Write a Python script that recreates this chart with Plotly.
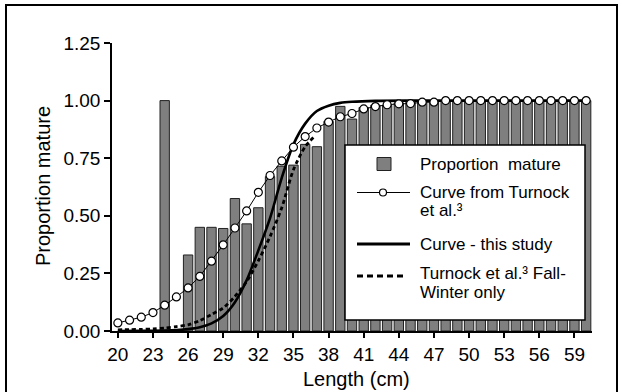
import plotly.graph_objects as go

# ---------------- data ----------------
lengths = list(range(20, 61))
prop_mature = [None, None, None, None, 1.00, None, 0.33, 0.45, 0.45, 0.445,
               0.575, 0.465, 0.535, 0.67, 0.715, 0.72, 0.81, 0.80, 0.91, 0.975,
               0.92, 0.97, 0.98, 0.98, 0.99, 1.0, 1.0, 1.0, 1.0, 1.0,
               1.0, 1.0, 1.0, 1.0, 1.0, 1.0, 1.0, 1.0, 1.0, 1.0, 1.0]

turnock_y = [0.035, 0.047, 0.060, 0.080, 0.112, 0.148, 0.187, 0.237, 0.303, 0.374,
             0.447, 0.521, 0.602, 0.675, 0.738, 0.798, 0.844, 0.881, 0.907, 0.930,
             0.944, 0.964, 0.974, 0.982, 0.986, 0.987, 0.993, 0.993, 1.0, 1.0,
             1.0, 1.0, 1.0, 1.0, 1.0, 1.0, 1.0, 1.0, 1.0, 1.0, 1.0]

study_x = [20, 22, 24, 25, 26, 27, 28, 29, 30, 31, 32, 33, 34, 35, 36, 37, 38, 39, 40, 42, 45, 50, 60]
study_y = [0.0, 0.0005, 0.002, 0.004, 0.008, 0.016, 0.033, 0.065, 0.125, 0.22, 0.35, 0.49,
           0.665, 0.81, 0.90, 0.955, 0.978, 0.99, 0.995, 0.999, 1.0, 1.0, 1.0]

fallwinter_x = [20, 21, 22, 23, 24, 25, 26, 27, 28, 29, 30, 31, 32, 33, 34, 35, 36, 36.7]
fallwinter_y = [0.005, 0.006, 0.007, 0.009, 0.013, 0.019, 0.027, 0.045, 0.072, 0.10,
                0.15, 0.215, 0.305, 0.41, 0.535, 0.70, 0.80, 0.84]

x_ticks = list(range(20, 60, 3))
y_ticks = [0, 0.25, 0.5, 0.75, 1.0, 1.25]

# ---------------- layout geometry ----------------
W, H = 622, 392
L, R, T, B = 112, 30, 43, 61
PW, PH = W - L - R, H - T - B

def px(x):
    return (x - L) / PW

def py(y):
    return (H - B - y) / PH

FONT = "Liberation Sans, Arial, Helvetica, sans-serif"
BAR_FILL = "#7f7f7f"
BAR_LINE = "#222222"

fig = go.Figure()

fig.add_trace(go.Bar(
    x=lengths, y=prop_mature, width=0.8,
    marker=dict(color=BAR_FILL, line=dict(color=BAR_LINE, width=1)),
    showlegend=False, hoverinfo="x+y"))

fig.add_trace(go.Scatter(
    x=study_x, y=study_y, mode="lines",
    line=dict(color="black", width=2.6, shape="spline", smoothing=0.8),
    showlegend=False))

fig.add_trace(go.Scatter(
    x=fallwinter_x, y=fallwinter_y, mode="lines",
    line=dict(color="black", width=2.8, dash="4px,3px", shape="spline", smoothing=0.8),
    showlegend=False))

fig.add_trace(go.Scatter(
    x=lengths, y=turnock_y, mode="lines+markers",
    line=dict(color="black", width=1),
    marker=dict(symbol="circle", size=8, color="white",
                line=dict(color="black", width=1.2)),
    showlegend=False))

shapes = []
# outer frame
shapes.append(dict(type="rect", xref="paper", yref="paper",
                   x0=px(6), x1=px(617), y0=py(400), y1=py(5),
                   line=dict(color="black", width=2), fillcolor="rgba(0,0,0,0)",
                   layer="above"))
# legend box
shapes.append(dict(type="rect", xref="paper", yref="paper",
                   x0=px(345), x1=px(585), y0=py(320), y1=py(145),
                   line=dict(color="black", width=1.5), fillcolor="white",
                   layer="above"))
# legend symbols
shapes.append(dict(type="rect", xref="paper", yref="paper",
                   x0=px(377), x1=px(391), y0=py(170.5), y1=py(157.5),
                   line=dict(color=BAR_LINE, width=1), fillcolor=BAR_FILL,
                   layer="above"))
shapes.append(dict(type="line", xref="paper", yref="paper",
                   x0=px(357), x1=px(410), y0=py(192.5), y1=py(192.5),
                   line=dict(color="black", width=1), layer="above"))
shapes.append(dict(type="circle", xref="paper", yref="paper",
                   x0=px(379.5), x1=px(386.5), y0=py(196), y1=py(189),
                   line=dict(color="black", width=1.2), fillcolor="white",
                   layer="above"))
shapes.append(dict(type="line", xref="paper", yref="paper",
                   x0=px(357), x1=px(410), y0=py(244), y1=py(244),
                   line=dict(color="black", width=3), layer="above"))
shapes.append(dict(type="line", xref="paper", yref="paper",
                   x0=px(357), x1=px(406), y0=py(276), y1=py(276),
                   line=dict(color="black", width=3, dash="6px,4px"), layer="above"))

ann = []
def text(s, x, y, size=17, xanchor="left", angle=0):
    ann.append(dict(text=s, xref="paper", yref="paper", x=px(x), y=py(y),
                    xanchor=xanchor, yanchor="middle", showarrow=False,
                    textangle=angle, font=dict(family=FONT, size=size, color="black")))

text("Proportion\u00a0 mature", 418, 164)
text("Curve from Turnock", 418, 192)
text("et al.\u00b3", 418, 211)
text("Curve - this study", 418, 244)
text("Turnock et al.\u00b3 Fall-", 418, 273)
text("Winter only", 418, 292)
text("Length (cm)", 356, 379, size=20, xanchor="center")
text("Proportion mature", 43, 186, size=20, xanchor="center", angle=-90)

fig.update_layout(
    width=W, height=H,
    margin=dict(l=L, r=R, t=T, b=B),
    paper_bgcolor="white", plot_bgcolor="white",
    shapes=shapes, annotations=ann,
    bargap=0.2,
    font=dict(family=FONT, size=16, color="black"),
    showlegend=False,
)
fig.update_xaxes(range=[19.5, 60.5], tickvals=x_ticks, ticks="outside", ticklen=5,
                 tickwidth=1.5, tickcolor="black", showline=True, linecolor="black",
                 linewidth=1.5, showgrid=False, zeroline=False,
                 tickfont=dict(family=FONT, size=19))
fig.update_yaxes(range=[0, 1.25], tickvals=y_ticks, tickformat=".2f", ticks="outside",
                 ticklen=6, tickwidth=1.5, tickcolor="black", showline=True,
                 linecolor="black", linewidth=1.5, showgrid=False, zeroline=False,
                 tickfont=dict(family=FONT, size=19))

fig.write_html("out.html")
